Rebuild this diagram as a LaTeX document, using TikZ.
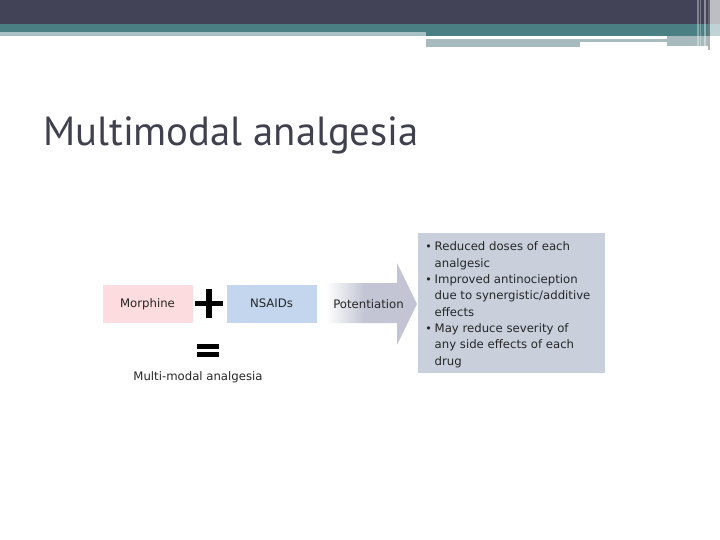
\documentclass[tikz,border=0pt]{standalone}
\usepackage{fontspec}
\setmainfont{DejaVu Sans}
\newfontfamily\titlefont{PT Sans}
\newfontfamily\dvs{DejaVu Sans}
\definecolor{topdark}{HTML}{434357}
\definecolor{topteal}{HTML}{4A7F84}
\definecolor{toplight}{HTML}{A6C0C3}
\definecolor{topgrey}{HTML}{A7BBBE}
\definecolor{titlecol}{HTML}{40404F}
\definecolor{pinkbox}{HTML}{FCDCDE}
\definecolor{bluebox}{HTML}{C3D6EE}
\definecolor{listbox}{HTML}{C9D0DC}
\definecolor{arrowgrey}{HTML}{C3C5D4}
\definecolor{txt}{HTML}{262626}
\pgfdeclarehorizontalshading{arrowshade}{100bp}{color(0bp)=(white); color(25bp)=(white); color(46bp)=(arrowgrey); color(100bp)=(arrowgrey)}
\begin{document}
\begin{tikzpicture}[x=1pt,y=-1pt,
  dtext/.style={font=\dvs\fontsize{11.7}{13}\selectfont, text=txt, inner sep=0pt},
  drugbox/.style={minimum width=90pt, minimum height=38pt, inner sep=0pt, font=\dvs\fontsize{11.7}{13}\selectfont, text=txt},
  listline/.style={anchor=base west, inner sep=0pt, font=\dvs\fontsize{11.7}{13}\selectfont, text=txt},
  bulletmark/.style={anchor=base, inner sep=0pt, font=\dvs\fontsize{11}{12}\selectfont, text=txt},
  signbar/.style={fill=black, draw=none}]
\useasboundingbox (0,0) rectangle (720,540);
\fill[white] (0,0) rectangle (720,540);
% top decoration
\fill[topdark] (0,0) rectangle (720,24);
\fill[topteal] (0,24) rectangle (720,32);
\fill[toplight] (0,32) rectangle (426,36);
\fill[topteal] (426,32) rectangle (720,36);
\fill[topgrey] (426,39) rectangle (580,47);
\fill[topgrey] (580,39) rectangle (667,42);
\fill[topgrey] (667,36) rectangle (708,46);
\fill[white,opacity=0.35] (697,0) rectangle (699,46);
\fill[white,opacity=0.3] (700,0) rectangle (701,46);
\fill[white,opacity=0.4] (704,0) rectangle (706,46);
\fill[gray,opacity=0.6] (708,0) rectangle (710,50);
\fill[white,opacity=0.65] (710,0) rectangle (720,46);
% title
\node[anchor=base west, inner sep=0pt, text=titlecol, font=\titlefont\fontsize{40.7}{48}\selectfont] (title) at (43,146) {Multimodal analgesia};
% boxes
\node[drugbox, fill=pinkbox] (morph) at (147.5,304) {Morphine};
\node[drugbox, fill=bluebox] (nsaid) at (271.5,303.5) {NSAIDs};
% plus sign
\coordinate (plus) at (209,303);
\fill[signbar] (195,300.5) rectangle (223,306);
\fill[signbar] (206.3,289) rectangle (211.7,317.5);
% equals sign
\coordinate (eq) at (208,350);
\fill[signbar] (197,344) rectangle (219,349);
\fill[signbar] (197,352) rectangle (219,357);
\node[dtext, anchor=base] (mma) at (198,380.5) {Multi-modal analgesia};
% arrow
\shade[shading=arrowshade] (326,283) -- (397,283) -- (397,263) -- (417,304) -- (397,345) -- (397,323) -- (326,323) -- cycle;
\node[dtext] (pot) at (368.5,304) {Potentiation};
% list box
\node[fill=listbox, minimum width=187pt, minimum height=140pt, inner sep=0pt, anchor=north west] (list) at (418,233) {};
\node[listline] (l1) at (434.5,251) {Reduced doses of each};
\node[listline] (l2) at (434.5,267.3) {analgesic};
\node[listline] (l3) at (434.5,283.6) {Improved antinocieption};
\node[listline] (l4) at (434.5,299.9) {due to synergistic/additive};
\node[listline] (l5) at (434.5,316.2) {effects};
\node[listline] (l6) at (434.5,332.5) {May reduce severity of};
\node[listline] (l7) at (434.5,348.8) {any side effects of each};
\node[listline] (l8) at (434.5,365.1) {drug};
\node[bulletmark] (b1) at (428.5,250.5) {•};
\node[bulletmark] (b2) at (428.5,283.1) {•};
\node[bulletmark] (b3) at (428.5,332) {•};
\end{tikzpicture}
\end{document}
